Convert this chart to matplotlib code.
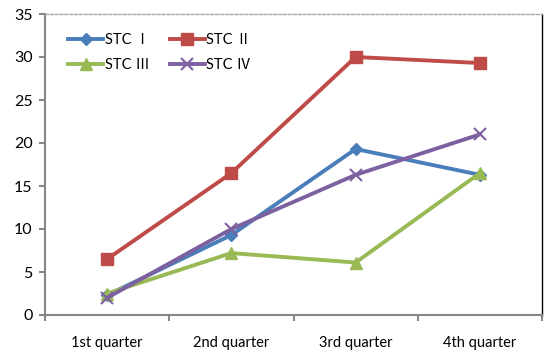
import matplotlib
matplotlib.use("Agg")
import matplotlib.pyplot as plt

categories = ["1st quarter", "2nd quarter", "3rd quarter", "4th quarter"]
series_names = ["STC Ⅰ", "STC Ⅱ", "STC Ⅲ", "STC Ⅳ"]
stc1 = [2.3, 9.3, 19.3, 16.3]
stc2 = [6.5, 16.5, 30.0, 29.3]
stc3 = [2.5, 7.2, 6.1, 16.5]
stc4 = [2.0, 10.0, 16.3, 21.0]
y_ticks = [0, 5, 10, 15, 20, 25, 30, 35]

colors = ["#4A7EBB", "#BE4B48", "#98B954", "#7D60A0"]
markers = ["D", "s", "^", "x"]
msizes = [6, 9, 9, 9]

plt.rcParams['font.family'] = ['Lato', 'Noto Sans CJK SC', 'DejaVu Sans']

fig = plt.figure(figsize=(5.45, 3.54), dpi=100)
ax = fig.add_axes([45/545, 1-315/354, (542-45)/545, (315-14)/354])

x = list(range(len(categories)))
handles = []
for vals, name, c, m, ms in zip([stc1, stc2, stc3, stc4], series_names, colors, markers, msizes):
    h, = ax.plot(x, vals, color=c, lw=2.8, marker=m, markersize=ms, markeredgewidth=1.5 if m == 'x' else 1,
                 markeredgecolor=c, markerfacecolor=c, label=name, clip_on=False)
    handles.append(h)

ax.set_xlim(-0.5, 3.5)
ax.set_ylim(0, 35)
ax.set_yticks(y_ticks)
ax.set_xticks([-0.5, 0.5, 1.5, 2.5, 3.5])
ax.set_xticklabels([])
ax.set_xticks(x, minor=True)
ax.set_xticklabels(categories, minor=True)
ax.tick_params(axis='x', which='minor', length=0, pad=15, labelsize=10.5)
ax.tick_params(axis='x', which='major', length=4, color='#868686', width=1.5)
ax.tick_params(axis='y', length=4, color='#868686', width=1.5, labelsize=11.5, pad=5)

for s in ['left', 'bottom']:
    ax.spines[s].set_color('#868686')
    ax.spines[s].set_linewidth(1.5)
ax.spines['top'].set_color('#A6A6A6')
ax.spines['top'].set_linestyle((0, (2, 1.5)))
ax.spines['top'].set_linewidth(1)
ax.spines['right'].set_color('black')
ax.spines['right'].set_linewidth(1)

order = [0, 2, 1, 3]
leg = ax.legend([handles[i] for i in order], [series_names[i] for i in order],
                ncol=2, loc='upper left', bbox_to_anchor=(0.035, 0.955), frameon=False,
                fontsize=10.5, handlelength=2.4, handletextpad=0.1, columnspacing=1.4,
                labelspacing=0.75, borderaxespad=0)

fig.savefig("out.png", dpi=100)
